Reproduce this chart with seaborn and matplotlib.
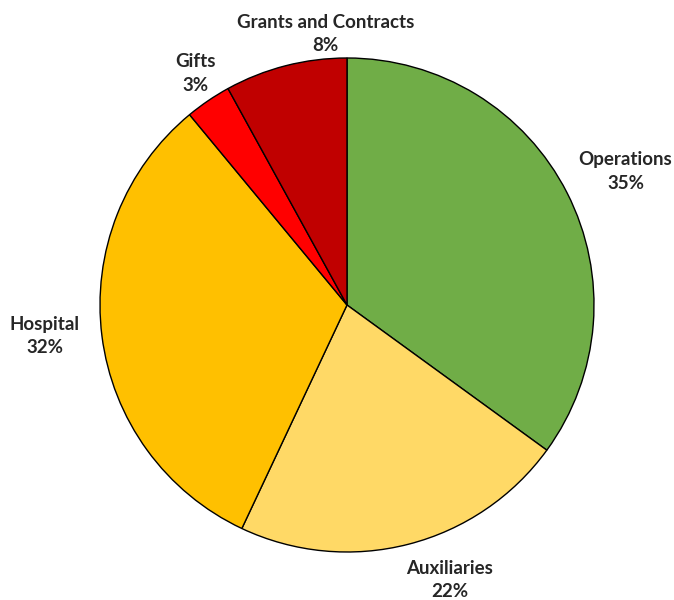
"""
Pie chart of revenue share by source.
"""
import numpy as np
import seaborn as sns
import matplotlib.pyplot as plt

categories = ['Operations', 'Auxiliaries', 'Hospital', 'Gifts', 'Grants and Contracts']
shares = [35, 22, 32, 3, 8]
colors = ['#70AD47', '#FFD966', '#FFC000', '#FF0000', '#C00000']

# label placement: distance from centre (in radii) and angle nudge (deg), per slice
label_dist = [1.25, 1.19, 1.23, 1.12, 1.10]
label_shift = [-1.4, 6.1, -1.3, -1.0, -9.8]


def make_pie():
    sns.set_theme(style='white')
    plt.rcParams['font.family'] = ['Lato', 'DejaVu Sans']

    fig = plt.figure(figsize=(6.74, 6.00), dpi=100)
    r_px = 247
    lim = 1.4
    side = 2 * lim * r_px
    cx, cy = 347, 600 - 305
    ax = fig.add_axes([(cx - side / 2) / 674, (cy - side / 2) / 600, side / 674, side / 600])

    wedges, _ = ax.pie(shares, colors=colors, startangle=90, counterclock=False,
                       wedgeprops=dict(edgecolor='black', linewidth=1.0))
    ax.set_xlim(-lim, lim)
    ax.set_ylim(-lim, lim)
    ax.set_aspect('equal')
    ax.axis('off')

    total = sum(shares)
    for w, name, val, d, s in zip(wedges, categories, shares, label_dist, label_shift):
        ang = np.deg2rad((w.theta1 + w.theta2) / 2 + s)
        ax.text(d * np.cos(ang), d * np.sin(ang), f'{name}\n{round(100 * val / total)}%',
                ha='center', va='center', fontsize=13.5, fontweight='bold',
                color='#262626', linespacing=1.45)

    fig.savefig('out.png', dpi=100)
    plt.close(fig)


if __name__ == '__main__':
    make_pie()
